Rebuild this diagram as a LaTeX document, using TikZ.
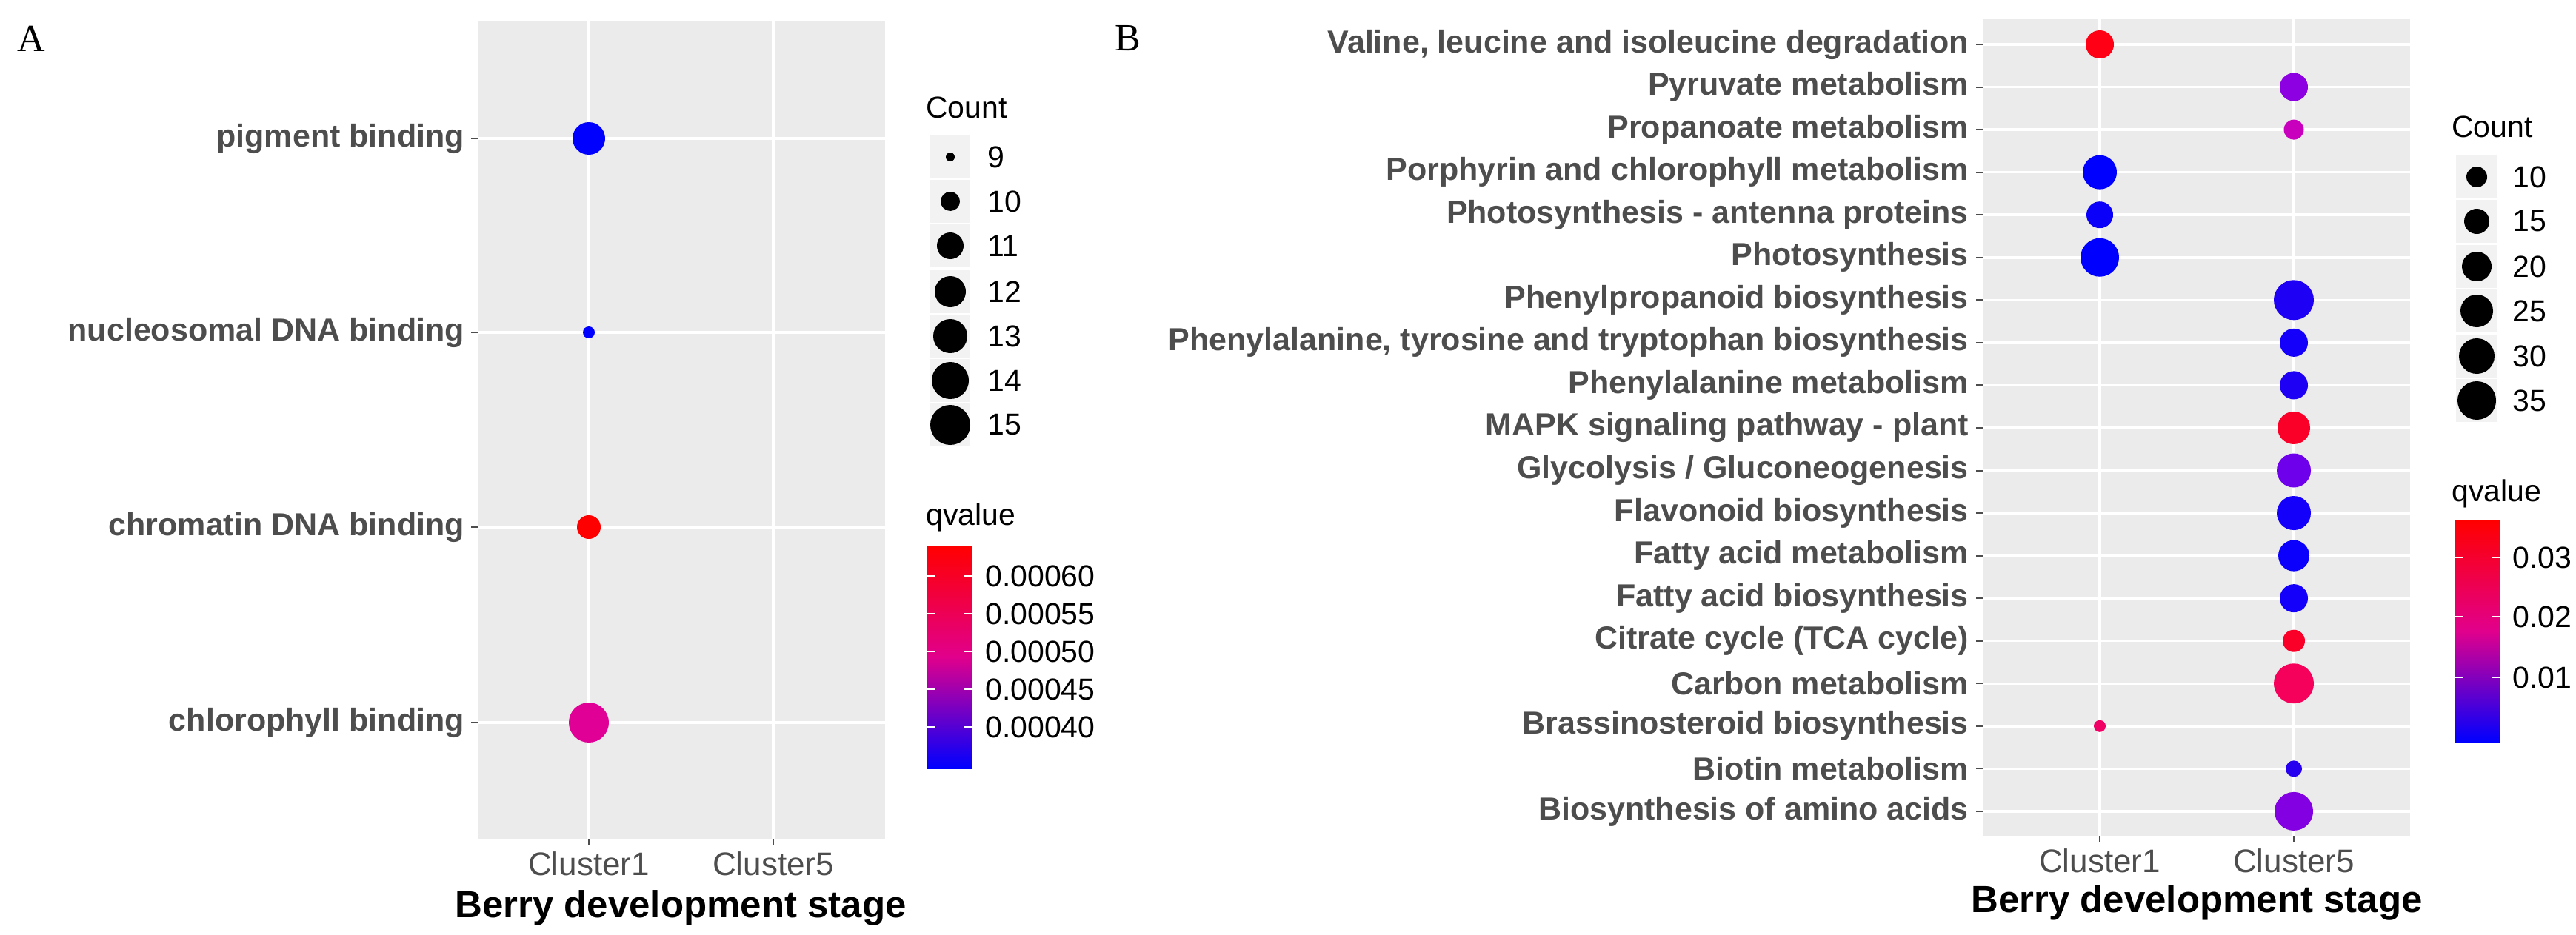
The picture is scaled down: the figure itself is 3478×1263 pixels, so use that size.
\documentclass[tikz,border=0pt]{standalone}
\usepackage{fontspec}
\setmainfont{Liberation Sans}
\newfontfamily\tnr{Liberation Serif}
\definecolor{bg}{HTML}{EBEBEB}
\definecolor{axt}{HTML}{4D4D4D}
\definecolor{keyb}{HTML}{F2F2F2}
\tikzset{
 ylab/.style={anchor=east,font=\fontsize{43}{43}\selectfont\bfseries,text=axt,inner sep=0},
 xlab/.style={anchor=north,font=\fontsize{44}{44}\selectfont,text=axt,inner sep=0},
 atitle/.style={font=\fontsize{51}{51}\selectfont\bfseries,inner sep=0},
 ltxt/.style={anchor=west,font=\fontsize{41}{41}\selectfont,inner sep=0},
 grid/.style={white,line width=3.5pt},
 tk/.style={axt,line width=2pt},
 dot/.style={circle,inner sep=0,minimum size=#1,draw=none},
 panlab/.style={font=\tnr\fontsize{52}{52}\selectfont,inner sep=0}
}
\begin{document}
\begin{tikzpicture}[x=1pt,y=-1pt]
\useasboundingbox[fill=white] (0,0) rectangle (3478,1263);
% ---------- Panel A ----------
\node[panlab] (labA) at (42,52) {A};
\fill[bg] (645,28) rectangle (1195,1133);
\foreach \yy in {187,449,712,976} {\draw[grid] (645,\yy) -- (1195,\yy); \draw[tk] (636,\yy) -- (645,\yy);}
\foreach \xx in {795,1044} {\draw[grid] (\xx,28) -- (\xx,1133); \draw[tk] (\xx,1133) -- (\xx,1142);}
\node[ylab] (a1) at (627,187) {pigment binding};
\node[ylab] (a2) at (627,449) {nucleosomal DNA binding};
\node[ylab] (a3) at (627,712) {chromatin DNA binding};
\node[ylab] (a4) at (627,976) {chlorophyll binding};
\node[xlab] (ac1) at (795,1150) {Cluster1};
\node[xlab] (ac5) at (1044,1150) {Cluster5};
\node[atitle] (at) at (919,1226) {Berry development stage};
\node[dot=44,fill={rgb,255:red,0;green,0;blue,255}] (d1) at (795,187) {};
\node[dot=16,fill={rgb,255:red,0;green,0;blue,255}] (d2) at (795,449) {};
\node[dot=32,fill={rgb,255:red,255;green,0;blue,0}] (d3) at (795,712) {};
\node[dot=54,fill={rgb,255:red,224;green,0;blue,150}] (d4) at (795,976) {};
% legend A
\node[ltxt] (cA) at (1250,145) {Count};
\foreach \yy/\s/\t [count=\i] in {212/12/9,272/26/10,332/36/11,394/42/12,454/46/13,514/50/14,574/54/15} {
 \fill[keyb] (1255,\yy-29) rectangle (1310,\yy+29);
 \node[dot=\s,fill=black] (kA\i) at (1283,\yy) {};
 \node[ltxt] (tA\i) at (1333,\yy) {\t};
}
\node[ltxt] (qA) at (1250,699) {qvalue};
\shade[top color=red, bottom color=blue, middle color={rgb,255:red,225;green,0;blue,140}] (1252,737) rectangle (1312,1038);
\foreach \yy/\t [count=\i] in {778/0.00060,829/0.00055,880/0.00050,931/0.00045,982/0.00040} {
 \draw[white,line width=1.5pt] (1252,\yy) -- (1263,\yy) (1301,\yy) -- (1312,\yy);
 \node[ltxt] (vA\i) at (1330,\yy) {\t};
}
% ---------- Panel B ----------
\node[panlab] (labB) at (1523,52) {B};
\fill[bg] (2677,26) rectangle (3254,1129);
\foreach \xx in {2835,3097} {\draw[grid] (\xx,26) -- (\xx,1129); \draw[tk] (\xx,1129) -- (\xx,1138);}
\foreach \nm [count=\i] in {
 {Valine, leucine and isoleucine degradation},
 {Pyruvate metabolism},
 {Propanoate metabolism},
 {Porphyrin and chlorophyll metabolism},
 {Photosynthesis - antenna proteins},
 {Photosynthesis},
 {Phenylpropanoid biosynthesis},
 {Phenylalanine, tyrosine and tryptophan biosynthesis},
 {Phenylalanine metabolism},
 {MAPK signaling pathway - plant},
 {Glycolysis / Gluconeogenesis},
 {Flavonoid biosynthesis},
 {Fatty acid metabolism},
 {Fatty acid biosynthesis},
 {Citrate cycle (TCA cycle)},
 {Carbon metabolism},
 {Brassinosteroid biosynthesis},
 {Biotin metabolism},
 {Biosynthesis of amino acids}} {
 \pgfmathsetmacro{\yy}{60+(\i-1)*57.55}
 \draw[grid] (2677,\yy) -- (3254,\yy);
 \draw[tk] (2668,\yy) -- (2677,\yy);
 \node[ylab] (b\i) at (2658,\yy) {\nm};
}
\foreach \cx/\sz/\col [count=\i] in {
 2835/38/{rgb,255:red,255;green,0;blue,20},
 3097/38/{rgb,255:red,140;green,0;blue,225},
 3097/27/{rgb,255:red,200;green,0;blue,190},
 2835/46/{rgb,255:red,0;green,0;blue,255},
 2835/36/{rgb,255:red,10;green,0;blue,250},
 2835/52/{rgb,255:red,0;green,0;blue,255},
 3097/54/{rgb,255:red,30;green,0;blue,245},
 3097/38/{rgb,255:red,20;green,0;blue,250},
 3097/38/{rgb,255:red,30;green,0;blue,245},
 3097/44/{rgb,255:red,250;green,0;blue,40},
 3097/46/{rgb,255:red,110;green,0;blue,235},
 3097/46/{rgb,255:red,20;green,0;blue,250},
 3097/42/{rgb,255:red,10;green,0;blue,252},
 3097/38/{rgb,255:red,20;green,0;blue,250},
 3097/30/{rgb,255:red,250;green,0;blue,40},
 3097/54/{rgb,255:red,245;green,0;blue,90},
 2835/16/{rgb,255:red,240;green,0;blue,100},
 3097/22/{rgb,255:red,40;green,0;blue,240},
 3097/52/{rgb,255:red,130;green,0;blue,225}} {
 \pgfmathsetmacro{\yy}{60+(\i-1)*57.55}
 \node[dot=\sz,fill=\col] (e\i) at (\cx,\yy) {};
}
\node[xlab] (bc1) at (2835,1146) {Cluster1};
\node[xlab] (bc5) at (3097,1146) {Cluster5};
\node[atitle] (bt) at (2966,1219) {Berry development stage};
% legend B
\node[ltxt] (cB) at (3310,171) {Count};
\foreach \yy/\s/\t [count=\i] in {239/28/10,299/34/15,360/40/20,420/44/25,481/48/30,541/52/35} {
 \fill[keyb] (3316,\yy-29) rectangle (3372,\yy+29);
 \node[dot=\s,fill=black] (kB\i) at (3344,\yy) {};
 \node[ltxt] (tB\i) at (3392,\yy) {\t};
}
\node[ltxt] (qB) at (3310,667) {qvalue};
\shade[top color=red, bottom color=blue, middle color={rgb,255:red,225;green,0;blue,140}] (3314,703) rectangle (3375,1002);
\foreach \yy/\t [count=\i] in {753/0.03,833/0.02,915/0.01} {
 \draw[white,line width=1.5pt] (3314,\yy) -- (3325,\yy) (3364,\yy) -- (3375,\yy);
 \node[ltxt] (vB\i) at (3392,\yy) {\t};
}
\end{tikzpicture}
\end{document}
